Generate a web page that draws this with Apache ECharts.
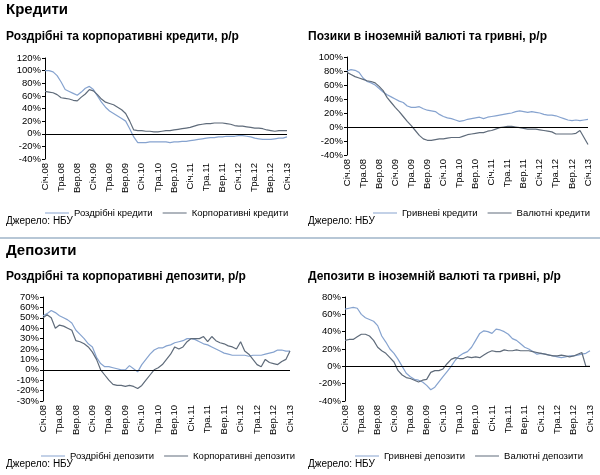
<!DOCTYPE html>
<html>
<head>
<meta charset="utf-8">
<script src="https://cdn.jsdelivr.net/npm/echarts@6/dist/echarts.min.js"></script>
<style>html,body{margin:0;padding:0;background:#fff}#c{width:600px;height:475px}</style>
</head>
<body>
<div id="c"></div>
<script>
// місяці Січ.08 ... Січ.13
const monthNames = ['Січ', 'Лют', 'Бер', 'Кві', 'Тра', 'Чер', 'Лип', 'Сер', 'Вер', 'Жов', 'Лис', 'Гру'];
const categories = [];
for (let y = 8; y <= 13; y++) {
    for (let m = 0; m < 12; m++) {
        if (y === 13 && m > 0) break;
        categories.push(monthNames[m] + '.' + (y < 10 ? '0' + y : y));
    }
}

const retailLoans = [100,100,98,92,82,70,67,64,61,66,72,75, 70,60,50,42,36,32,28,24,20,8,-5,-14,
    -14,-14,-13,-13,-13,-13,-13,-14,-13,-13,-12,-12, -11,-10,-9,-8,-7,-6,-6,-5,-5,-4,-4,-4,
    -3,-3,-4,-5,-7,-8,-9,-9,-9,-8,-7,-7, -5];
const corpLoans = [67,66,65,62,57,56,55,53,52,58,63,70, 68,62,55,50,48,46,42,38,32,20,6,5,
    5,4,4,3,3,4,5,5,6,7,8,9, 10,12,14,15,16,16,17,17,17,16,15,13,
    12,12,11,10,9,9,8,6,5,4,5,5, 5];
const uahLoans = [80,82,81,78,70,65,63,60,55,50,46,43, 40,37,35,30,28,28,29,26,24,23,22,18,
    15,13,12,10,8,9,11,12,13,14,12,14, 15,16,17,18,19,20,22,23,22,21,22,21,
    20,18,17,17,16,14,12,10,9,10,9,10, 11];
const fxLoans = [78,75,72,70,68,66,65,63,58,52,42,35, 28,22,15,8,2,-5,-12,-17,-19,-19,-18,-17,
    -17,-16,-15,-15,-15,-13,-11,-10,-9,-8,-8,-6, -5,-3,-1,0,1,1,0,-1,-2,-3,-3,-3,
    -4,-5,-6,-7,-10,-10,-10,-10,-10,-9,-5,-15, -25];
const retailDep = [52,54,57,55,52,50,48,45,38,34,30,25, 22,12,6,3,3,2,1,0,0,4,1,-2,
    5,10,15,19,21,21,23,24,26,27,28,30, 30,29,27,25,24,22,20,18,16,15,14,14,
    14,14,13,14,14,14,15,16,17,19,19,18, 18];
const corpDep = [50,53,50,40,43,42,40,38,28,27,25,22, 17,10,0,-5,-10,-14,-15,-15,-16,-15,-16,-18,
    -15,-10,-5,0,2,5,10,15,22,20,22,27, 30,30,30,32,27,32,28,26,25,23,22,20,
    27,18,15,10,5,3,10,7,6,5,8,10, 18];
const uahDep = [66,67,68,67,60,56,54,52,47,35,28,20, 15,8,0,-8,-12,-15,-16,-18,-22,-27,-24,-18,
    -12,-6,0,7,12,15,17,22,30,38,41,40, 38,43,42,40,37,32,30,26,22,20,17,14,
    15,14,13,12,11,10,11,12,12,13,14,15, 18];
const fxDep = [30,31,31,34,37,37,35,30,22,18,15,10, 5,-5,-10,-13,-14,-16,-18,-16,-15,-7,-5,-5,
    -3,3,8,10,9,9,11,10,11,10,13,16, 18,17,17,19,18,18,19,18,18,18,17,16,
    15,14,13,12,12,13,12,11,12,14,16,0, 0];

const light = '#86a3cf', dark = '#5f6b7a';
const font = 'Liberation Sans, Arial, sans-serif';

const panels = [
    { grid: { left: 45, top: 58, width: 242, height: 101 }, min: -40, max: 120, interval: 20,
      names: ['Роздрібні кредити', 'Корпоративні кредити'], data: [retailLoans, corpLoans], legendTop: 203, legendLeft: 40 },
    { grid: { left: 347, top: 57, width: 241, height: 98 }, min: -40, max: 100, interval: 20,
      names: ['Гривневі кредити', 'Валютні кредити'], data: [uahLoans, fxLoans], legendTop: 203, legendLeft: 368 },
    { grid: { left: 43, top: 297, width: 247, height: 104 }, min: -30, max: 70, interval: 10,
      names: ['Роздрібні депозити', 'Корпоративні депозити'], data: [retailDep, corpDep], legendTop: 446, legendLeft: 36 },
    { grid: { left: 345, top: 297, width: 245, height: 104 }, min: -40, max: 80, interval: 20,
      names: ['Гривневі депозити', 'Валютні депозити'], data: [uahDep, fxDep], legendTop: 446, legendLeft: 350 }
];

const grids = [], xAxes = [], yAxes = [], series = [], legends = [];
panels.forEach(function (p, i) {
    grids.push(p.grid);
    xAxes.push({
        type: 'category', gridIndex: i, data: categories, boundaryGap: false,
        axisLine: { show: false }, axisTick: { show: false },
        axisLabel: { interval: 3, rotate: 90, fontSize: 9.5, color: '#000', fontFamily: font, margin: 4 }
    });
    yAxes.push({
        type: 'value', gridIndex: i, min: p.min, max: p.max, interval: p.interval,
        splitLine: { show: false },
        axisLine: { show: true, lineStyle: { color: '#000', width: 1 } },
        axisTick: { show: true, length: 3, lineStyle: { color: '#000' } },
        axisLabel: { formatter: '{value}%', fontSize: 9.5, color: '#000', fontFamily: font, margin: 4 }
    });
    const colors = [light, dark];
    p.names.forEach(function (name, k) {
        const s = {
            name: name, type: 'line', xAxisIndex: i, yAxisIndex: i, data: p.data[k],
            showSymbol: false, color: colors[k], lineStyle: { width: 1.2, color: colors[k] }
        };
        if (k === 0) {
            s.markLine = { silent: true, symbol: 'none', label: { show: false },
                lineStyle: { color: '#000', type: 'solid', width: 1 }, data: [{ yAxis: 0 }] };
        }
        series.push(s);
    });
    legends.push({
        data: p.names, top: p.legendTop, left: p.legendLeft, width: 290, orient: 'horizontal',
        icon: 'rect', itemWidth: 24, itemHeight: 1, itemGap: 10,
        textStyle: { fontSize: 9.5, color: '#000', fontFamily: font }
    });
});

const title = function (text, x, y, size) {
    return { type: 'text', left: x, top: y, style: { text: text, fontSize: size, fontWeight: 'bold', fill: '#000', fontFamily: font } };
};
const note = function (x, y) {
    return { type: 'text', left: x, top: y, style: { text: 'Джерело: НБУ', fontSize: 10, fill: '#000', fontFamily: font } };
};

const chart = echarts.init(document.getElementById('c'));
chart.setOption({
    animation: false,
    grid: grids, xAxis: xAxes, yAxis: yAxes, series: series, legend: legends,
    graphic: [
        title('Кредити', 6, 2, 15),
        title('Роздрібні та корпоративні кредити, р/р', 6, 31, 12),
        title('Позики в іноземній валюті та гривні, р/р', 308, 31, 12),
        note(6, 216), note(308, 216),
        { type: 'line', shape: { x1: 0, y1: 238, x2: 600, y2: 238 }, style: { stroke: '#9fb4c8', lineWidth: 1.5 } },
        title('Депозити', 6, 243, 15),
        title('Роздрібні та корпоративні депозити, р/р', 6, 271, 12),
        title('Депозити в іноземній валюті та гривні, р/р', 308, 271, 12),
        note(6, 459), note(308, 459)
    ]
});
</script>
</body>
</html>
